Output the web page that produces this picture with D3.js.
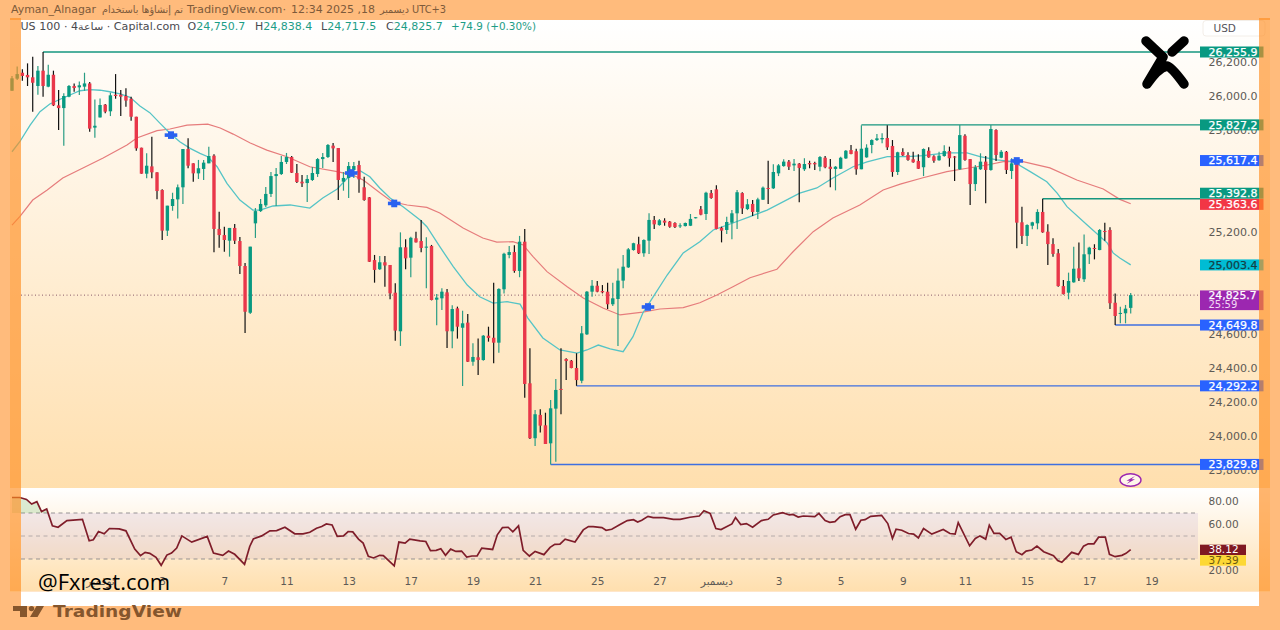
<!DOCTYPE html>
<html>
<head>
<meta charset="utf-8">
<style>
  html, body { margin: 0; padding: 0; background: #ffbb7c; overflow: hidden; }
  text { font-family: "DejaVu Sans", sans-serif; }
  .axis path, .axis line { display: none; }
  .axis text { font-family: "DejaVu Sans", sans-serif; fill: #5d5a55; }
</style>
<script src="https://cdn.jsdelivr.net/npm/d3@7"></script>
</head>
<body>
<div id="chart"></div>
<script>
// Candles
const opens = [
  26028,26099,26134,26121,26107,26056,26146,26052,26122,25942,
  25926,25993,26056,26048,26052,26071,25811,25871,25946,25907,
  26005,26005,25997,25981,25875,25693,25540,25583,25548,25444,
  25205,25350,25389,25460,25685,25601,25542,25568,25601,25646,
  25215,25179,25146,25221,25144,24997,24722,25248,25320,25354,
  25421,25526,25538,25609,25638,25544,25493,25485,25503,25538,
  25626,25638,25705,25691,25493,25515,25562,25591,25460,25401,
  25032,24978,25019,25003,24840,24613,25107,25046,25160,25144,
  25105,25115,24799,24807,24842,24613,24748,24634,24664,24434,
  24460,24444,24587,24575,24546,24860,25062,25079,24968,25140,
  24307,23984,24121,24060,23954,24158,24274,24450,24440,24397,
  24322,24595,24846,24881,24850,24846,24772,24803,24911,24989,
  25091,25125,25072,25146,25268,25238,25264,25258,25250,25231,
  25232,25234,25278,25331,25303,25426,25448,25222,25209,25252,
  25307,25426,25332,25362,25315,25387,25456,25454,25542,25585,
  25611,25589,25599,25566,25603,25603,25581,25634,25581,25568,
  25569,25630,25679,25672,25566,25636,25709,25738,25742,25750,
  25703,25550,25668,25650,25625,25615,25578,25675,25642,25619,
  25644,25673,25641,25566,25763,25626,25479,25566,25611,25562,
  25797,25634,25669,25556,25605,25254,25174,25234,25248,25315,
  25199,25126,25072,24879,24840,24901,24983,24919,25066,25103,
  25091,25203,25209,24781,24715,24719,24750.7
];
const highs = [
  26115,26170,26154,26189,26228,26173,26255.9,26181,26146,26032,
  26013,26062,26071,26083,26134,26079,25977,25983,25950,26017,
  26126,26032,26042,25993,25875,25693,25660,25758,25548,25448,
  25352,25428,25477,25685,25748,25601,25621,25621,25698,25655,
  25316,25228,25221,25244,25168,25015,25111,25338,25391,25462,
  25550,25574,25644,25662,25644,25597,25532,25532,25579,25632,
  25662,25715,25721,25691,25550,25609,25609,25616,25522,25403,
  25062,25056,25056,25003,24895,25195,25154,25169,25199,25268,
  25166,25121,24832,24866,24862,24766,24758,24734,24715,24542,
  24570,24591,24640,24899,24866,25075,25115,25119,25174,25215,
  24513,24150,24154,24134,24209,24332,24513,24454,24444,24484,
  24644,24850,24915,24909,24885,24899,24899,24983,25062,25103,
  25134,25169,25154,25307,25291,25274,25278,25262,25254,25248,
  25253,25303,25285,25350,25434,25444,25472,25228,25287,25326,
  25444,25431,25391,25385,25399,25464,25616,25595,25597,25625,
  25621,25626,25603,25631,25616,25611,25644,25644,25626,25585,
  25640,25679,25709,25687,25825,25713,25742,25774,25778,25825,
  25738,25669,25689,25666,25669,25654,25689,25695,25648,25669,
  25707,25699,25644,25827,25772,25626,25591,25660,25644,25827,
  25801,25679,25673,25631,25631,25346,25242,25258,25331,25392.8,
  25242,25160,25097,24915,24958,25111,25136,25183,25111,25125,
  25215,25252,25225,24836,24758,24768,24838.4
];
const lows = [
  26028,26091,26087,26056,25905,26005,25993,26048,25938,25797,
  25705,25989,26022,26003,26028,25787,25752,25871,25895,25879,
  25981,25879,25934,25852,25675,25540,25513,25513,25389,25150,
  25173,25322,25277,25362,25572,25493,25509,25503,25601,25078,
  25105,25081,25052,25126,24950,24603,24715,25162,25315,25344,
  25403,25350,25532,25597,25544,25485,25462,25373,25497,25521,
  25574,25632,25609,25385,25440,25397,25515,25428,25381,25020,
  24899,24974,24875,24801,24558,24527,24978,24931,25136,25078,
  24866,24795,24648,24738,24515,24513,24570,24291,24432,24410,
  24356,24440,24552,24425,24487,24836,25042,24958,24931,24222,
  23980,23938,24017,23950,23829.8,23846,24125,24326,24395,24292.2,
  24307,24591,24816,24842,24836,24744,24762,24527,24866,24985,
  25087,25068,25052,25068,25215,25234,25234,25222,25221,25221,
  25230,25232,25277,25295,25268,25393,25213,25136,25185,25154,
  25215,25303,25326,25291,25274,25385,25362,25450,25526,25581,
  25562,25556,25372,25556,25572,25562,25554,25572,25460,25442,
  25568,25626,25654,25534,25566,25634,25660,25732,25719,25679,
  25522,25532,25644,25616,25605,25568,25526,25634,25605,25616,
  25640,25581,25497,25562,25616,25356,25438,25562,25366,25558,
  25615,25631,25538,25509,25101,25126,25115,25213,25213,25193,
  25003,25052,24875,24830,24801,24899,24909,24903,25009,25036,
  25090,25146,24744,24649.8,24660,24660,24717.5
];
const closes = [
  26101,26126,26115,26107,26075,26146,26056,26122,25942,25926,
  25997,26056,26044,26060,26071,25805,25822,25944,25905,26001,
  25997,25993,25970,25875,25689,25540,25587,25548,25438,25205,
  25352,25391,25460,25685,25587,25542,25572,25605,25644,25215,
  25179,25150,25221,25146,24997,24728,25111,25320,25362,25421,
  25526,25538,25609,25638,25546,25491,25483,25509,25544,25626,
  25638,25709,25689,25503,25515,25585,25585,25507,25385,25022,
  24974,25019,25000,24836,24617,25107,25042,25163,25136,25103,
  25111,24797,24811,24846,24613,24744,24640,24660,24434,24462,
  24444,24587,24574,24546,24862,25069,25079,24968,25140,24303,
  23984,24125,24058,23950,24160,24268,24268,24438,24397,24326,
  24601,24846,24881,24846,24842,24772,24807,24911,24993,25095,
  25131,25072,25150,25268,25242,25266,25252,25228,25226,25236,
  25250,25274,25284,25299,25428,25397,25215,25205,25256,25307,
  25431,25336,25360,25315,25389,25458,25453,25550,25589,25611,
  25581,25599,25574,25597,25595,25595,25638,25578,25568,25581,
  25634,25675,25656,25566,25687,25693,25738,25748,25750,25695,
  25550,25666,25648,25621,25607,25569,25685,25636,25616,25646,
  25673,25631,25636,25767,25621,25479,25578,25611,25562,25803,
  25650,25669,25562,25601,25252,25174,25238,25254,25315,25195,
  25126,25068,24879,24832,24909,24981,24925,25066,25105,25097,
  25209,25197,24778,24703,24721,24746,24825.7
];

// Moving averages: [candle index, price]
const fastMa = [
  [0,25669],[1.5,25728],[3.5,25826],[5.4,25905],[7.3,25950],[9.3,25978],[11.2,26003],[13.1,26028],
  [15.1,26034],[17,26031],[18.9,26022],[20.9,26009],[22.8,25989],[24.7,25938],[26.6,25899],[28.6,25836],
  [30.5,25778],[32.4,25728],[34.4,25689],[36.3,25660],[37.8,25640],[39.6,25581],[41.5,25483],[44,25385],
  [46.5,25326],[47.9,25326],[50.4,25350],[53.7,25356],[57.5,25338],[60,25397],[62.8,25450],[65.3,25532],
  [67.2,25558],[69.1,25522],[71,25456],[73,25397],[75.5,25346],[78.8,25268],[80.1,25228],[82.6,25111],
  [85.2,24993],[87.9,24885],[90.3,24816],[92.9,24779],[95.6,24787],[98.1,24773],[99.6,24691],[102.5,24574],
  [105.8,24503],[109.1,24485],[111,24503],[113.2,24532],[115.5,24509],[118,24493],[119.9,24581],[121.8,24721],
  [123.8,24816],[126.5,24944],[129.6,25074],[132.8,25140],[135.4,25209],[139.2,25250],[142.5,25287],[145.8,25326],
  [152.1,25426],[155.4,25456],[158.5,25515],[162.4,25581],[165.1,25610],[169,25640],[172.8,25640],[175.9,25646],
  [180.5,25662],[184.4,25662],[186.9,25640],[190.2,25621],[193.3,25611],[196.6,25552],[199.8,25493],[201.8,25426],
  [203.7,25346],[207.6,25238],[211.5,25132],[212.6,25074],[213.9,25044],[216,25003.4]
];
const slowMa = [
  [0,25238],[1.5,25287],[4,25385],[6.8,25444],[9.8,25515],[13.7,25574],[17.6,25632],[22.2,25709],
  [24.1,25750],[28,25793],[30.5,25803],[33.8,25826],[37.8,25832],[40.2,25809],[42.7,25773],[46,25721],
  [49.2,25679],[53.1,25640],[57.5,25581],[62.8,25552],[65.8,25532],[67.8,25503],[71.1,25426],[73.4,25375],
  [76.3,25356],[80.1,25342],[82.6,25309],[87.1,25220],[90.9,25162],[93.6,25138],[96.7,25140],[98.7,25121],
  [100.6,25052],[103.3,24964],[107.2,24875],[110.3,24809],[114.1,24750],[117.4,24709],[121.8,24726],[125.1,24744],
  [129.6,24752],[132.8,24781],[136.1,24826],[139.2,24875],[142.5,24928],[147.7,24978],[150.8,25081],[154.7,25199],
  [158.5,25279],[163.7,25356],[168.2,25444],[171.5,25479],[175.9,25516],[180.5,25552],[184.4,25572],[188.3,25591],
  [191.4,25611],[195.2,25611],[200.4,25574],[205.6,25503],[210.7,25450],[213.9,25389],[216,25363.6]
];

// RSI line: [candle index, value]
const rsiLine = [
  [0,83.5],[1.5,83.5],[2.8,81.8],[3.8,77.8],[4.8,79.8],[5.7,71.2],[6.7,73.5],[7.8,58.8],[8.9,57.6],[10.6,63.4],
  [13.6,64.5],[14.9,45.8],[15.7,46.7],[16.7,53.9],[17.8,51.9],[18.8,56.5],[20.7,56.2],[22,54.5],[23.7,38.6],[24.8,32.9],
  [25.7,35.8],[26.6,34.9],[27.8,31.4],[28.8,24.5],[29.9,33.4],[30.8,35.2],[31.8,39.5],[32.8,50.1],[34.7,44.7],[37.7,49.6],
  [38.9,35.2],[40.7,33.2],[41.8,36.9],[43,34.1],[44.9,25.4],[45.9,40.9],[46.6,47.5],[48.2,50.1],[49.8,54.5],[51.1,54.7],
  [52.7,57.6],[54.6,51.9],[56.2,51.9],[57.5,53.3],[58.8,56.8],[59.8,58.2],[60.7,60.5],[61.8,59.6],[62.8,49.6],[64,50.1],
  [64.9,53.9],[65.8,53.6],[66.9,47.3],[67.8,43.8],[68.8,32.3],[69.8,30.9],[71,33.2],[71.7,32.9],[73.8,24],[74.7,44.7],
  [75.9,43.8],[76.8,47.3],[78.8,45.8],[79.9,45.2],[80.8,37.2],[81.9,37.5],[82.8,38.9],[83.7,33.2],[84.7,38.6],[85.7,36.6],
  [86.8,36.9],[87.8,31.7],[88.8,32.6],[89.8,32.6],[90.7,39.5],[92.8,38.3],[93.7,51],[94.7,57.3],[95.8,57.6],[96.7,53.6],
  [97.8,58.8],[98.7,37.5],[99.9,32.6],[101,36.6],[102.7,33.8],[103.9,40.1],[104.8,42.7],[105.8,42.9],[106.8,47.3],[108.7,44.7],
  [110.3,55.3],[111.3,58.2],[112.2,58.2],[113.9,57.3],[114.7,55],[115.8,55.9],[117.4,59.9],[118.8,63.4],[120,64.2],[120.8,62.2],
  [121.6,63.7],[122.8,67.1],[123.8,66],[125.8,66],[127.7,64.5],[129,64.5],[130.9,66.3],[132.7,67.4],[133.6,72],[134.8,69.7],
  [135.9,56.5],[136.9,55.6],[139,60.5],[139.7,66],[140.7,59.9],[141.8,60.8],[143,57.6],[144.7,63.4],[146,64.5],[147,68.3],
  [148.8,70.3],[150.1,68.3],[150.8,68.8],[151.8,66.5],[152.8,67.4],[155,66.8],[155.8,69.7],[157,63.4],[157.9,61.9],[158.9,62.5],
  [159.9,66.8],[160.9,68.6],[161.8,68.6],[162.9,55.9],[163.9,63.7],[164.7,64.2],[165.8,67.1],[167.9,68],[169.1,60.8],[170,47.8],
  [170.7,55.9],[171.8,55],[173.1,52.2],[174.1,51.6],[175,48.4],[176,56.5],[177.6,51.6],[179.8,55.6],[181.1,52.2],[182.1,51.6],
  [182.7,61.7],[184.9,41.5],[186,47.8],[186.9,50.1],[188,47.3],[188.7,59.4],[189.6,52.2],[190.7,52.2],[191.9,47],[192.9,49],
  [193.9,36.3],[195,33.7],[195.8,36.9],[196.9,37.8],[197.9,41.2],[199.2,36.3],[201.1,32.9],[201.9,28.6],[202.7,27.1],[204.6,35.8],
  [205.9,34],[206.9,41.2],[207.8,43.2],[208.9,43.2],[209.8,49],[211.1,49],[211.9,34],[213,32],[214.3,33.2],[215.1,34.9],[216,38.12]
];

// Signal crosses: [candle index, price]
const crossSignals = [[30.7,25767],[65.5,25544],[73.8,25365],[122.8,24756],[194,25615]];

// Horizontal levels
const levelStarts = [6, 164, 199, 213, 109, 104];
const levelPrices = [26255.9, 25827.2, 25392.8, 24649.8, 24292.2, 23829.8];
const levelKinds = ["up", "up", "up", "down", "down", "down"];

// Axis ticks (the ones fully behind a price label are left out)
const priceTicks = [26200,26000,25800,25200,24600,24400,24200,24000,23800];
const rsiTicks = [80,60,20];
const rsiLevels = [70,50,30];
const dateTickIndex = [17,29,41,53,65,77,89,101,113,125,136,148,160,172,184,196,208,220];
const dateTickLabels = ["نوفمبر","3","7","11","13","17","19","21","25","27","ديسمبر","3","5","9","11","15","17","19"];

const lastClose = 24825.7;
const countdown = "25:59";
const fastMaLast = 25003.4;
const slowMaLast = 25363.6;
const crossLast = 25617.4;
const rsiLast = 38.12;
const rsiSignalLast = 37.39;

const width = 1280;
const height = 630;
const outer = "#ffbb7c";
const green = "#089981";
const red = "#f23645";
const blue = "#2962ff";

const svg = d3.select("#chart").append("svg")
  .attr("width", width)
  .attr("height", height)
  .style("display", "block");

// Scales
const x = d3.scaleLinear().domain([0, 216]).range([12, 1130.7]);
const y = d3.scaleLinear().domain([23800, 26300]).range([469.5, 44.5]);
const yRsi = d3.scaleLinear().domain([20, 80]).range([570.5, 501.5]);

const fmt = d3.format(",.1f");

// Pane backgrounds
const defs = svg.append("defs");
const mainGrad = defs.append("linearGradient").attr("id", "mainGrad").attr("x1", 0).attr("x2", 0).attr("y1", 0).attr("y2", 1);
mainGrad.append("stop").attr("offset", 0).attr("stop-color", "#ffffff");
mainGrad.append("stop").attr("offset", 1).attr("stop-color", "#ffdfae");
const rsiGrad = defs.append("linearGradient").attr("id", "rsiGrad").attr("x1", 0).attr("x2", 0).attr("y1", 0).attr("y2", 1);
rsiGrad.append("stop").attr("offset", 0).attr("stop-color", "#ffffff");
rsiGrad.append("stop").attr("offset", 1).attr("stop-color", "#ffdfae");
defs.append("clipPath").attr("id", "aboveBand").append("rect")
  .attr("x", 0).attr("y", 480).attr("width", 1200).attr("height", yRsi(70) - 480);

svg.append("rect").attr("width", width).attr("height", height).attr("fill", outer);
svg.append("rect").attr("x", 10).attr("y", 20).attr("width", 1260).attr("height", 468).attr("fill", "url(#mainGrad)");
svg.append("rect").attr("x", 10).attr("y", 488).attr("width", 1260).attr("height", 103.5).attr("fill", "url(#rsiGrad)");
svg.append("rect").attr("x", 21).attr("y", 591.5).attr("width", 1238).attr("height", 14.5).attr("fill", "#ffffff");

// Price axis
svg.append("g").attr("class", "axis")
  .attr("transform", "translate(1200,0)")
  .call(d3.axisRight(y).tickValues(priceTicks).tickSize(0).tickPadding(8.5).tickFormat(fmt))
  .selectAll("text").style("font-size", "11px");

// Last price dotted line
svg.append("line")
  .attr("x1", 21).attr("x2", 1200)
  .attr("y1", y(lastClose)).attr("y2", y(lastClose))
  .attr("stroke", "#8a5a6a").attr("stroke-width", 1)
  .attr("stroke-dasharray", "1,2.5");

// Moving averages
const maLine = d3.line().x(d => x(d[0])).y(d => y(d[1]));
svg.append("path").datum(slowMa).attr("d", maLine)
  .attr("fill", "none").attr("stroke", "#e67c7c").attr("stroke-width", 1.2);
svg.append("path").datum(fastMa).attr("d", maLine)
  .attr("fill", "none").attr("stroke", "#55c4c6").attr("stroke-width", 1.3);

// Levels
svg.append("g").selectAll("line").data(levelPrices).join("line")
  .attr("x1", (d, i) => x(levelStarts[i]))
  .attr("x2", 1200)
  .attr("y1", d => y(d))
  .attr("y2", d => y(d))
  .attr("stroke", (d, i) => levelKinds[i] === "up" ? "#16967f" : "#3f6fe0")
  .attr("stroke-width", 1.4);

// Candles
const candles = svg.append("g").selectAll("g").data(opens).join("g");
candles.append("line")
  .attr("x1", (d, i) => x(i))
  .attr("x2", (d, i) => x(i))
  .attr("y1", (d, i) => y(highs[i]))
  .attr("y2", (d, i) => y(lows[i]))
  .attr("stroke", (d, i) => closes[i] >= d ? "#2a9d84" : "#111111")
  .attr("stroke-width", 1.2);
candles.append("rect")
  .attr("x", (d, i) => x(i) - 1.7)
  .attr("width", 3.4)
  .attr("y", (d, i) => y(Math.max(d, closes[i])))
  .attr("height", (d, i) => Math.max(1, Math.abs(y(d) - y(closes[i]))))
  .attr("fill", (d, i) => closes[i] >= d ? green : "#e9374a");

// Blue crosses
const crosses = svg.append("g").selectAll("g").data(crossSignals).join("g")
  .attr("transform", d => `translate(${x(d[0])},${y(d[1])})`)
  .attr("fill", "#2a62f0");
crosses.append("rect").attr("x", -6.3).attr("y", -1.8).attr("width", 12.6).attr("height", 3.6);
crosses.append("rect").attr("x", -3).attr("y", -3.8).attr("width", 6).attr("height", 7.6);

// Price labels on the right
function priceLabel(price, fill, textFill, nudge) {
  const cy = y(price) + (nudge || 0);
  svg.append("rect").attr("x", 1200).attr("y", cy - 5.5).attr("width", 63.5).attr("height", 11).attr("fill", fill);
  svg.append("text").attr("x", 1208.5).attr("y", cy + 3.8)
    .attr("fill", textFill).attr("stroke", textFill).attr("stroke-width", 0.25)
    .style("font-size", "11px").text(fmt(price));
}
levelPrices.forEach((p, i) => {
  priceLabel(p, levelKinds[i] === "up" ? green : blue, "#ffffff", p === 25392.8 ? -5.5 : 0);
});
priceLabel(slowMaLast, red, "#ffffff", 0.7);
priceLabel(crossLast, blue, "#ffffff");
priceLabel(fastMaLast, "#00bcd4", "#133f47");

// Last price label with countdown
const lastY = y(lastClose);
svg.append("rect").attr("x", 1200).attr("y", lastY - 4.7).attr("width", 63.5).attr("height", 19.7).attr("fill", "#9c27b0");
svg.append("text").attr("x", 1208.5).attr("y", lastY + 3.6).attr("fill", "#ffffff").attr("stroke", "#ffffff").attr("stroke-width", 0.25)
  .style("font-size", "10.8px").text(fmt(lastClose));
svg.append("text").attr("x", 1208.5).attr("y", lastY + 13.2).attr("fill", "#f1d8f5").style("font-size", "10px").text(countdown);

// USD box
svg.append("rect").attr("x", 1203).attr("y", 20.5).attr("width", 62).attr("height", 15.5).attr("rx", 3)
  .attr("fill", "#ffffff").attr("stroke", "#f3eee8");
svg.append("text").attr("x", 1213.5).attr("y", 32).attr("fill", "#55535a").style("font-size", "10.5px").text("USD");

// Logo watermark
svg.append("path")
  .attr("d", "M1146,41 L1163,57 L1147,84 M1147,84 Q1158,68 1167,66 Q1171,66 1184,84 M1172,52 L1184,41")
  .attr("fill", "none").attr("stroke", "#000000").attr("stroke-width", 9.5)
  .attr("stroke-linecap", "round").attr("stroke-linejoin", "round");

// Lightning badge
svg.append("ellipse").attr("cx", 1130.5).attr("cy", 480).attr("rx", 10.5).attr("ry", 6.2)
  .attr("fill", "#fff6ea").attr("stroke", "#9c27b0").attr("stroke-width", 1.4);
svg.append("path").attr("d", "M1135,476 L1126.5,480.7 L1130,480.7 L1126.5,484 L1135,479.3 L1131.5,479.3 Z")
  .attr("fill", "#9c27b0");

// RSI pane
svg.append("rect")
  .attr("x", 21).attr("width", 1177)
  .attr("y", yRsi(70)).attr("height", yRsi(30) - yRsi(70))
  .attr("fill", "#7e57c2").attr("fill-opacity", 0.1);
svg.append("g").selectAll("line").data(rsiLevels).join("line")
  .attr("x1", 21).attr("x2", 1198)
  .attr("y1", d => yRsi(d)).attr("y2", d => yRsi(d))
  .attr("stroke", "#8d8a8c")
  .attr("stroke-opacity", d => d === 50 ? 0.6 : 0.9)
  .attr("stroke-dasharray", "4,3.5");
svg.append("path").datum(rsiLine)
  .attr("clip-path", "url(#aboveBand)")
  .attr("d", d3.area().x(d => x(d[0])).y0(yRsi(70)).y1(d => yRsi(d[1])))
  .attr("fill", "#4caf50").attr("fill-opacity", 0.2);
svg.append("path").datum(rsiLine)
  .attr("d", d3.line().x(d => x(d[0])).y(d => yRsi(d[1])))
  .attr("fill", "none").attr("stroke", "#7f1d2a").attr("stroke-width", 1.7);

svg.append("g").attr("class", "axis")
  .attr("transform", "translate(1200,0)")
  .call(d3.axisRight(yRsi).tickValues(rsiTicks).tickSize(0).tickPadding(8.5).tickFormat(d3.format(".2f")))
  .selectAll("text").style("font-size", "10.5px");

svg.append("rect").attr("x", 1200).attr("y", yRsi(rsiLast) - 5).attr("width", 46).attr("height", 10.5).attr("fill", "#801922");
svg.append("text").attr("x", 1208.5).attr("y", yRsi(rsiLast) + 3.8).attr("fill", "#ffffff").style("font-size", "10.5px").text(rsiLast.toFixed(2));
svg.append("rect").attr("x", 1200).attr("y", yRsi(rsiLast) + 5.5).attr("width", 46).attr("height", 10.5).attr("fill", "#fdd835");
svg.append("text").attr("x", 1208.5).attr("y", yRsi(rsiLast) + 14.3).attr("fill", "#6b5a10").style("font-size", "10.5px").text(rsiSignalLast.toFixed(2));

// Time axis
svg.append("g").attr("class", "axis")
  .attr("transform", "translate(0,576)")
  .call(d3.axisBottom(x).tickValues(dateTickIndex).tickSize(0).tickPadding(2)
    .tickFormat((d, i) => dateTickLabels[i]))
  .selectAll("text").style("font-size", "10.5px");

// Side strips, on top of everything that reaches them
svg.append("rect").attr("x", 10).attr("y", 18).attr("width", 11).attr("height", 573.5)
  .attr("fill", "rgb(255,141,32)").attr("fill-opacity", 0.65);
svg.append("rect").attr("x", 1259).attr("y", 18).attr("width", 11).attr("height", 573.5)
  .attr("fill", "rgb(255,141,32)").attr("fill-opacity", 0.65);

// Top credit line
const creditTexts = ["Ayman_Alnagar", "تم إنشاؤها باستخدام", "TradingView.com·", "12:34 2025 ,18", "ديسمبر", "UTC+3"];
const creditStarts = [11, 102, 187, 291, 380, 412];
const creditWidths = [85, 81, 99, 84, 29, 34];
svg.append("g").selectAll("text").data(creditTexts).join("text")
  .attr("x", (d, i) => creditStarts[i])
  .attr("y", 13)
  .attr("fill", "#7d5a3a")
  .attr("textLength", (d, i) => creditWidths[i])
  .attr("lengthAdjust", "spacingAndGlyphs")
  .style("font-size", "10px")
  .text(d => d);

// Header line with OHLC
const headerNames = ["O", "H", "L", "C"];
const headerValues = [opens[216], highs[216], lows[216], closes[216]];
const headerStarts = [187.5, 255, 321, 386];
svg.append("text").attr("x", 20.5).attr("y", 30).attr("fill", "#4a4a4f")
  .attr("textLength", 159.5).attr("lengthAdjust", "spacingAndGlyphs").style("font-size", "10.2px")
  .text("US 100 · 4ساعة · Capital.com");
headerNames.forEach((n, i) => {
  const t = svg.append("text").attr("x", headerStarts[i]).attr("y", 30).style("font-size", "11px");
  t.append("tspan").attr("fill", "#4a4a4f").text(n);
  t.append("tspan").attr("fill", "#1d9d86").text(fmt(headerValues[i]));
});
svg.append("text").attr("x", 451).attr("y", 30).attr("fill", "#1d9d86").style("font-size", "10.4px")
  .text("+74.9 (+0.30%)");

// Site watermark
svg.append("text").attr("x", 38).attr("y", 590).attr("fill", "#000000")
  .attr("textLength", 132).attr("lengthAdjust", "spacingAndGlyphs")
  .style("font-family", "'Open Sans', sans-serif").style("font-size", "21px").text("@Fxrest.com");

// TradingView mark at the bottom
svg.append("path")
  .attr("d", "M13,606 H27 V617 H20 V611 H13 Z M44,606 L37.5,617 H30 L36.5,606 Z")
  .attr("fill", "#85562d");
svg.append("circle").attr("cx", 31.5).attr("cy", 608.6).attr("r", 2.7).attr("fill", "#85562d");
svg.append("text").attr("x", 53).attr("y", 617).attr("fill", "#85562d")
  .attr("textLength", 129).attr("lengthAdjust", "spacingAndGlyphs")
  .style("font-size", "15px").style("font-weight", "bold").text("TradingView");
</script>
</body>
</html>
